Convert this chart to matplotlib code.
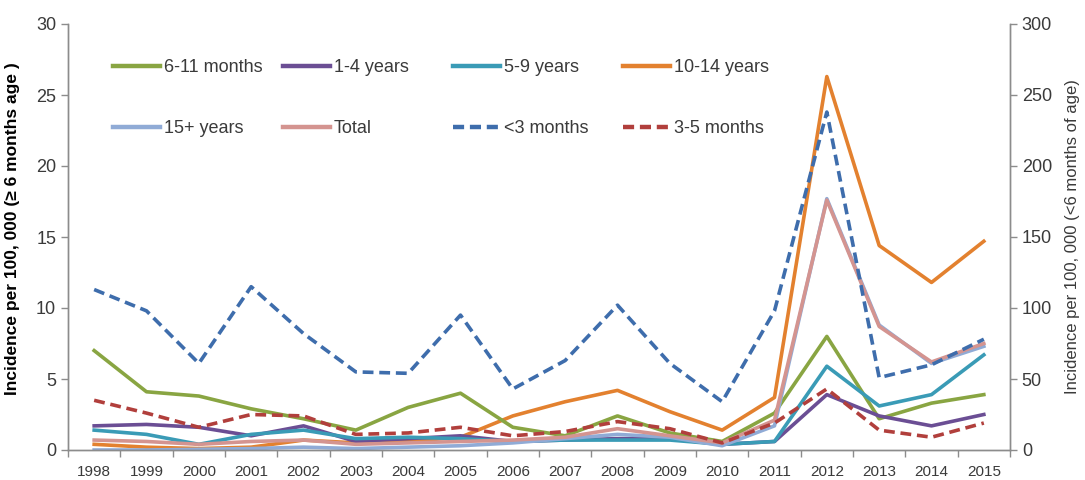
import matplotlib
matplotlib.use("Agg")
import matplotlib.pyplot as plt
from matplotlib.lines import Line2D

plt.rcParams['font.family'] = ['Liberation Sans', 'DejaVu Sans']

years = [str(y) for y in range(1998, 2016)]

m6_11 = [7.0, 4.1, 3.8, 2.9, 2.2, 1.4, 3.0, 4.0, 1.6, 1.0, 2.4, 1.2, 0.6, 2.6, 8.0, 2.2, 3.3, 3.9]
y1_4 = [1.7, 1.8, 1.6, 1.0, 1.7, 0.6, 0.8, 1.0, 0.6, 0.7, 0.8, 0.8, 0.4, 0.6, 3.9, 2.4, 1.7, 2.5]
y5_9 = [1.4, 1.1, 0.4, 1.1, 1.4, 0.8, 0.9, 0.8, 0.6, 0.7, 0.7, 0.7, 0.4, 0.6, 5.9, 3.1, 3.9, 6.7]
y10_14 = [0.4, 0.2, 0.1, 0.2, 0.7, 0.5, 0.6, 0.9, 2.4, 3.4, 4.2, 2.7, 1.4, 3.7, 26.3, 14.4, 11.8, 14.7]
y15p = [0.0, 0.0, 0.05, 0.1, 0.2, 0.1, 0.2, 0.3, 0.5, 0.8, 1.1, 0.9, 0.3, 1.7, 17.7, 8.8, 6.1, 7.3]
total = [0.7, 0.6, 0.4, 0.6, 0.7, 0.4, 0.5, 0.6, 0.7, 0.9, 1.5, 1.0, 0.5, 2.1, 17.6, 8.7, 6.2, 7.5]
lt3m = [113, 98, 61, 115, 82, 55, 54, 95, 43, 63, 102, 61, 34, 98, 238, 51, 60, 78]
m3_5 = [35, 26, 16, 25, 24, 11, 12, 16, 10, 13, 20, 15, 5, 19, 43, 14, 9, 19]

left_series = [
    ("6-11 months", m6_11, "#89A542"),
    ("1-4 years", y1_4, "#6B4E94"),
    ("5-9 years", y5_9, "#3A9BB6"),
    ("10-14 years", y10_14, "#E3812F"),
    ("15+ years", y15p, "#90ABD6"),
    ("Total", total, "#D49490"),
]
right_series = [
    ("<3 months", lt3m, "#3E6DAC"),
    ("3-5 months", m3_5, "#B13F3C"),
]

fig = plt.figure(figsize=(10.85, 4.8), dpi=100)
ax = fig.add_axes([68/1085, 1-450/480, (1010-68)/1085, (450-24)/480])
ax2 = ax.twinx()

x = list(range(len(years)))
colors = {}
draw_order = ["10-14 years", "6-11 months", "1-4 years", "5-9 years", "15+ years", "Total"]
lookup = {n: (v, c) for n, v, c in left_series}
for name in draw_order:
    v, c = lookup[name]
    ax.plot(x, v, color=c, lw=2.6)
    colors[name] = c
for name, v, c in right_series:
    ax2.plot(x, v, color=c, lw=2.6, ls=(0, (3.0, 1.6)))
    colors[name] = c

grey = "#8C8C8C"
txt = "#3A3A3A"
ax.set_xlim(-0.5, len(years) - 0.5)
ax.set_ylim(0, 30)
ax2.set_ylim(0, 300)
ax.set_yticks(range(0, 31, 5))
ax2.set_yticks(range(0, 301, 50))
ax.set_xticks(x)
ax.set_xticklabels(years)
ax.set_xticks([i - 0.5 for i in range(len(years) + 1)], minor=True)
ax.tick_params(axis='x', which='major', length=0, labelsize=11, colors=txt, pad=11)
ax.tick_params(axis='x', which='minor', length=5, color=grey, width=1)
ax.tick_params(axis='y', length=5, color=grey, width=1, labelsize=13, labelcolor=txt)
ax2.tick_params(axis='y', length=5, color=grey, width=1, labelsize=13, labelcolor=txt)

for a in (ax, ax2):
    a.spines['top'].set_visible(False)
    for s in ('left', 'right', 'bottom'):
        a.spines[s].set_color(grey)
        a.spines[s].set_linewidth(1)

ax.set_ylabel("Incidence per 100, 000 (≥ 6 months age )", fontsize=12.5, fontweight='bold',
              color='black')
ax.yaxis.set_label_coords(-48/942, 0.52)
ax2.set_ylabel("Incidence per 100, 000 (<6 months of age)", fontsize=12, color=txt, labelpad=9)

cols = [["6-11 months", "15+ years"], ["1-4 years", "Total"], ["5-9 years", "<3 months"], ["10-14 years", "3-5 months"]]
col_x = [113, 283, 453, 623]
for names, cx in zip(cols, col_x):
    hs = []
    for n in names:
        if n in ("<3 months", "3-5 months"):
            hs.append(Line2D([], [], color=colors[n], lw=3.2, ls=(0, (2.5, 1.3))))
        else:
            hs.append(Line2D([], [], color=colors[n], lw=3.2))
    leg = fig.legend(hs, names, loc='upper left', bbox_to_anchor=(cx/1085, 1 - 59/480),
                     frameon=False, fontsize=13, handlelength=2.6, handletextpad=0.22,
                     labelspacing=2.44, borderaxespad=0, borderpad=0)
    for t in leg.get_texts():
        t.set_color(txt)

fig.savefig("out.png", dpi=100)
